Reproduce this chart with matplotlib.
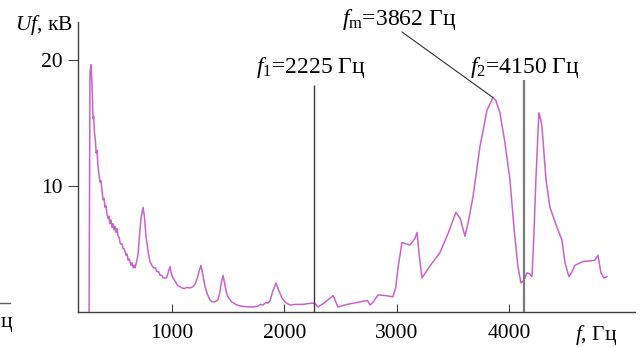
import matplotlib
matplotlib.use("Agg")
import matplotlib.pyplot as plt
from matplotlib.lines import Line2D

plt.rcParams['font.family'] = ['Liberation Serif', 'DejaVu Serif']
plt.rcParams['mathtext.fontset'] = 'custom'
plt.rcParams['mathtext.rm'] = 'Liberation Serif'
plt.rcParams['mathtext.it'] = 'Liberation Serif:italic'

freq = [262, 270, 279, 288, 297, 303, 310, 318, 325, 333, 340, 350, 359, 368, 377, 386, 395, 404, 413,
        422, 431, 440, 448, 457, 466, 475, 484, 493, 502, 511, 520, 530, 540, 555, 565, 575, 590, 598,
        610, 620, 635, 644, 655, 665, 671, 685, 698, 710, 725, 742, 755, 768, 778, 790, 804, 820, 835,
        850, 866, 880, 895, 910, 920, 935, 950, 965, 982, 995, 1009, 1030, 1050, 1071, 1090, 1110, 1130,
        1160, 1185, 1205, 1222, 1240, 1258, 1275, 1294, 1315, 1335, 1356, 1380, 1409, 1425, 1440, 1454,
        1470, 1485, 1498, 1530, 1578, 1620, 1680, 1721, 1760, 1790, 1810, 1835, 1855, 1872, 1895, 1925,
        1950, 1979, 2010, 2050, 2100, 2166, 2200, 2255, 2275, 2299, 2360, 2433, 2477, 2560, 2673, 2740,
        2762, 2788, 2833, 2900, 2966, 2990, 3011, 3046, 3085, 3117, 3160, 3180, 3200, 3224, 3300, 3384,
        3460, 3527, 3565, 3607, 3640, 3678, 3740, 3803, 3856, 3880, 3918, 3963, 4007, 4043, 4078, 4105,
        4132, 4158, 4185, 4203, 4220, 4238, 4265, 4280, 4292, 4328, 4363, 4426, 4470, 4497, 4532, 4560,
        4585, 4657, 4720, 4763, 4790, 4817, 4843, 4870]
voltage = [0.0, 19.0, 19.6, 18.0, 15.3, 15.5, 14.2, 13.6, 12.6, 12.8, 11.7, 10.9, 10.3, 10.4, 9.6, 8.9,
           9.0, 8.3, 8.4, 7.7, 7.4, 7.6, 7.0, 7.3, 6.7, 7.0, 6.5, 6.8, 6.3, 6.6, 6.0, 5.9, 5.4, 5.4, 5.0,
           5.0, 4.5, 4.6, 4.1, 4.2, 3.7, 3.9, 3.5, 3.7, 3.5, 4.0, 4.6, 6.0, 7.5, 8.3, 7.5, 6.0, 5.4, 4.6,
           4.0, 3.7, 3.5, 3.5, 3.2, 3.2, 2.9, 2.9, 2.7, 2.7, 2.7, 3.1, 3.6, 3.0, 2.7, 2.4, 2.1, 2.0, 1.9,
           1.85, 1.95, 1.9, 2.0, 2.2, 2.6, 3.2, 3.7, 2.9, 2.0, 1.4, 1.0, 0.8, 0.8, 0.95, 1.5, 2.4, 2.9,
           2.2, 1.5, 1.2, 0.8, 0.55, 0.45, 0.4, 0.4, 0.45, 0.6, 0.55, 0.75, 0.7, 0.9, 1.6, 2.3, 1.7, 1.1,
           0.75, 0.55, 0.6, 0.6, 0.65, 0.7, 0.65, 0.4, 0.75, 1.3, 0.4, 0.6, 0.8, 0.9, 0.55, 0.75, 1.35,
           1.3, 1.2, 1.9, 3.5, 5.5, 5.4, 5.3, 5.8, 6.3, 4.5, 2.7, 3.7, 4.7, 6.3, 7.9, 7.4, 6.0, 7.3, 9.1,
           13.1, 16.0, 17.0, 16.8, 15.8, 13.4, 10.5, 6.7, 3.6, 2.3, 2.5, 3.1, 3.0, 2.8, 6.0, 10.5, 15.8,
           15.3, 14.7, 10.5, 8.3, 6.7, 5.7, 3.9, 2.8, 3.2, 3.7, 4.0, 4.05, 4.1, 4.5, 3.1, 2.7, 2.8]

x_ticks = [1000, 2000, 3000, 4000]
y_ticks = [10, 20]
marker_freqs = [2260, 4135]
marker_tops = [18.0, 18.4]
marker_labels = [r'$f_{1}$=2225 Гц', r'$f_{2}$=4150 Гц']
fm_freq = 3856
fm_value = 17.0
fm_label = r'$f_{\rm m}$=3862 Гц'

fig = plt.figure(figsize=(6.4, 3.47), dpi=100)
ax = fig.add_axes([0.122, 0.101, 0.870, 0.836])
ax.set_xlim(164, 5119)
ax.set_ylim(0, 23)

ax.plot(freq, voltage, color='#c864c8', lw=1.1, solid_joinstyle='round')

ax.vlines(marker_freqs[0], 0, marker_tops[0], color='#3a3a3a', lw=1.0)
ax.vlines(marker_freqs[1], 0, marker_tops[1], color='#7a7a7a', lw=1.6)

for s in ['top', 'right']:
    ax.spines[s].set_visible(False)
for s in ['left', 'bottom']:
    ax.spines[s].set_color('#404040')
    ax.spines[s].set_linewidth(1.0)

ax.set_xticks(x_ticks)
ax.set_yticks(y_ticks)
ax.tick_params(axis='x', direction='in', length=6, pad=9, labelsize=15.5, color='#404040')
ax.tick_params(axis='y', direction='out', length=7, pad=4, labelsize=15.5, color='#404040')

fs = 15.5
fs_ann = 17
fig.text(15 / 640, 1 - 25 / 347, r'$Uf$, кВ', fontsize=fs, ha='left', va='center')
fig.text(575 / 640, 1 - 335 / 347, r'$f$, Гц', fontsize=fs, ha='left', va='center')

fig.text(256 / 640, 1 - 67 / 347, marker_labels[0], fontsize=fs_ann, ha='left', va='center')
fig.text(470 / 640, 1 - 67 / 347, marker_labels[1], fontsize=fs_ann, ha='left', va='center')
fig.text(342 / 640, 1 - 19 / 347, fm_label, fontsize=fs_ann, ha='left', va='center')

ax.annotate('', xy=(fm_freq, fm_value), xytext=(3046, 22.2),
            arrowprops=dict(arrowstyle='-', color='#303030', lw=0.8, shrinkA=0, shrinkB=0),
            annotation_clip=False)

# clipped remnant at the left edge
fig.add_artist(Line2D([0, 10 / 640], [1 - 303 / 347] * 2, color='#606060', lw=1.0))
fig.text(0.5 / 640, 1 - 322 / 347, 'ц', fontsize=fs, ha='left', va='center')

fig.savefig('out.png', dpi=100)
